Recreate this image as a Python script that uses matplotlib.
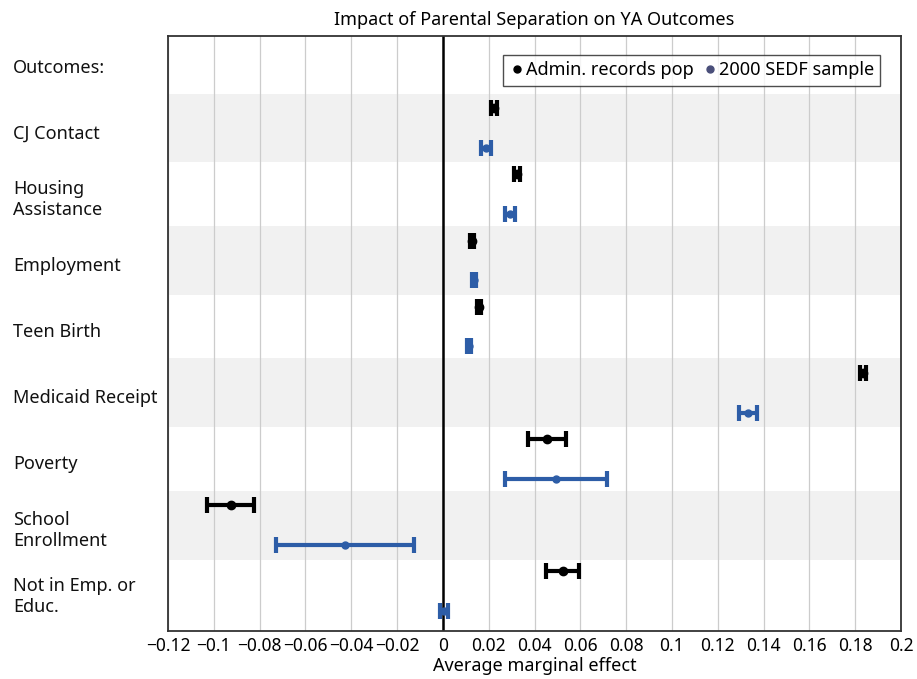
import numpy as np
import matplotlib.pyplot as plt
from matplotlib.transforms import blended_transform_factory
from matplotlib.lines import Line2D

plt.rcParams['font.family'] = ['Noto Sans', 'DejaVu Sans']

outcomes = ['CJ Contact', 'Housing\nAssistance', 'Employment', 'Teen Birth',
            'Medicaid Receipt', 'Poverty', 'School\nEnrollment', 'Not in Emp. or\nEduc.']

admin_est = [0.0223, 0.0323, 0.0127, 0.0157, 0.1834, 0.0454, -0.0926, 0.0524]
admin_err = [0.0012, 0.0012, 0.0010, 0.0010, 0.0012, 0.0083, 0.0103, 0.0072]
sedf_est = [0.0188, 0.0293, 0.0135, 0.0114, 0.1332, 0.0493, -0.0428, 0.0004]
sedf_err = [0.0020, 0.0020, 0.0010, 0.0010, 0.0040, 0.0223, 0.0300, 0.0018]

xticks = [-0.12, -0.1, -0.08, -0.06, -0.04, -0.02, 0, 0.02, 0.04, 0.06,
          0.08, 0.1, 0.12, 0.14, 0.16, 0.18, 0.2]
xticklabels = ['\u22120.12', '\u22120.1', '\u22120.08', '\u22120.06', '\u22120.04', '\u22120.02',
               '0', '0.02', '0.04', '0.06', '0.08', '0.1', '0.12', '0.14', '0.16', '0.18', '0.2']

blue = '#2d5da7'

fig = plt.figure(figsize=(9.17, 6.79), dpi=100)
ax = fig.add_axes([168 / 917, 1 - 631 / 679, 733 / 917, 595 / 679])

n = len(outcomes)
centers = np.arange(n)

# alternating shaded bands
for i in centers:
    if i % 2 == 0:
        ax.axhspan(i - 0.52, i + 0.52, color='#f1f1f1', zorder=0, lw=0)

for x in xticks:
    ax.axvline(x, color='#cccccc', lw=0.9, zorder=1)
ax.axvline(0, color='black', lw=1.8, zorder=2)

ax.errorbar(admin_est, centers - 0.3, xerr=admin_err, fmt='o', color='black',
            ms=6, lw=3, capsize=6, capthick=3, zorder=4)
ax.errorbar(sedf_est, centers + 0.3, xerr=sedf_err, fmt='o', color=blue,
            ms=5, lw=3, capsize=6, capthick=3, zorder=4)

ax.set_xlim(-0.12, 0.2)
ax.set_ylim(n - 1 + 0.6, -1.39)
ax.set_yticks([])
ax.set_xticks(xticks)
ax.set_xticklabels(xticklabels, fontsize=12.5)
ax.tick_params(axis='x', length=0, pad=4)
for s in ax.spines.values():
    s.set_color('#333333')
    s.set_linewidth(1.3)

ax.set_xlabel('Average marginal effect', fontsize=13, labelpad=2)
ax.set_title('Impact of Parental Separation on YA Outcomes', fontsize=13, pad=8)

tr = blended_transform_factory(fig.transFigure, ax.transData)
ax.text(13 / 917, -0.9, 'Outcomes:', transform=tr, fontsize=13,
        ha='left', va='center', color='#111111', clip_on=False)
for i, lab in enumerate(outcomes):
    ax.text(13 / 917, i + 0.08, lab, transform=tr, fontsize=13,
            ha='left', va='center', color='#111111', clip_on=False, linespacing=1.2)

handles = [Line2D([], [], marker='o', color='black', ls='none', ms=5),
           Line2D([], [], marker='o', color='#4a4f7a', ls='none', ms=5)]
ax.legend(handles, ['Admin. records pop', '2000 SEDF sample'], loc='upper right',
          ncol=2, fontsize=13, frameon=True, fancybox=False, edgecolor='#222222',
          handletextpad=0.1, columnspacing=0.5, handlelength=0.8,
          borderpad=0.35, borderaxespad=0, bbox_to_anchor=(0.972, 0.968))

fig.savefig('out.png', dpi=100)
